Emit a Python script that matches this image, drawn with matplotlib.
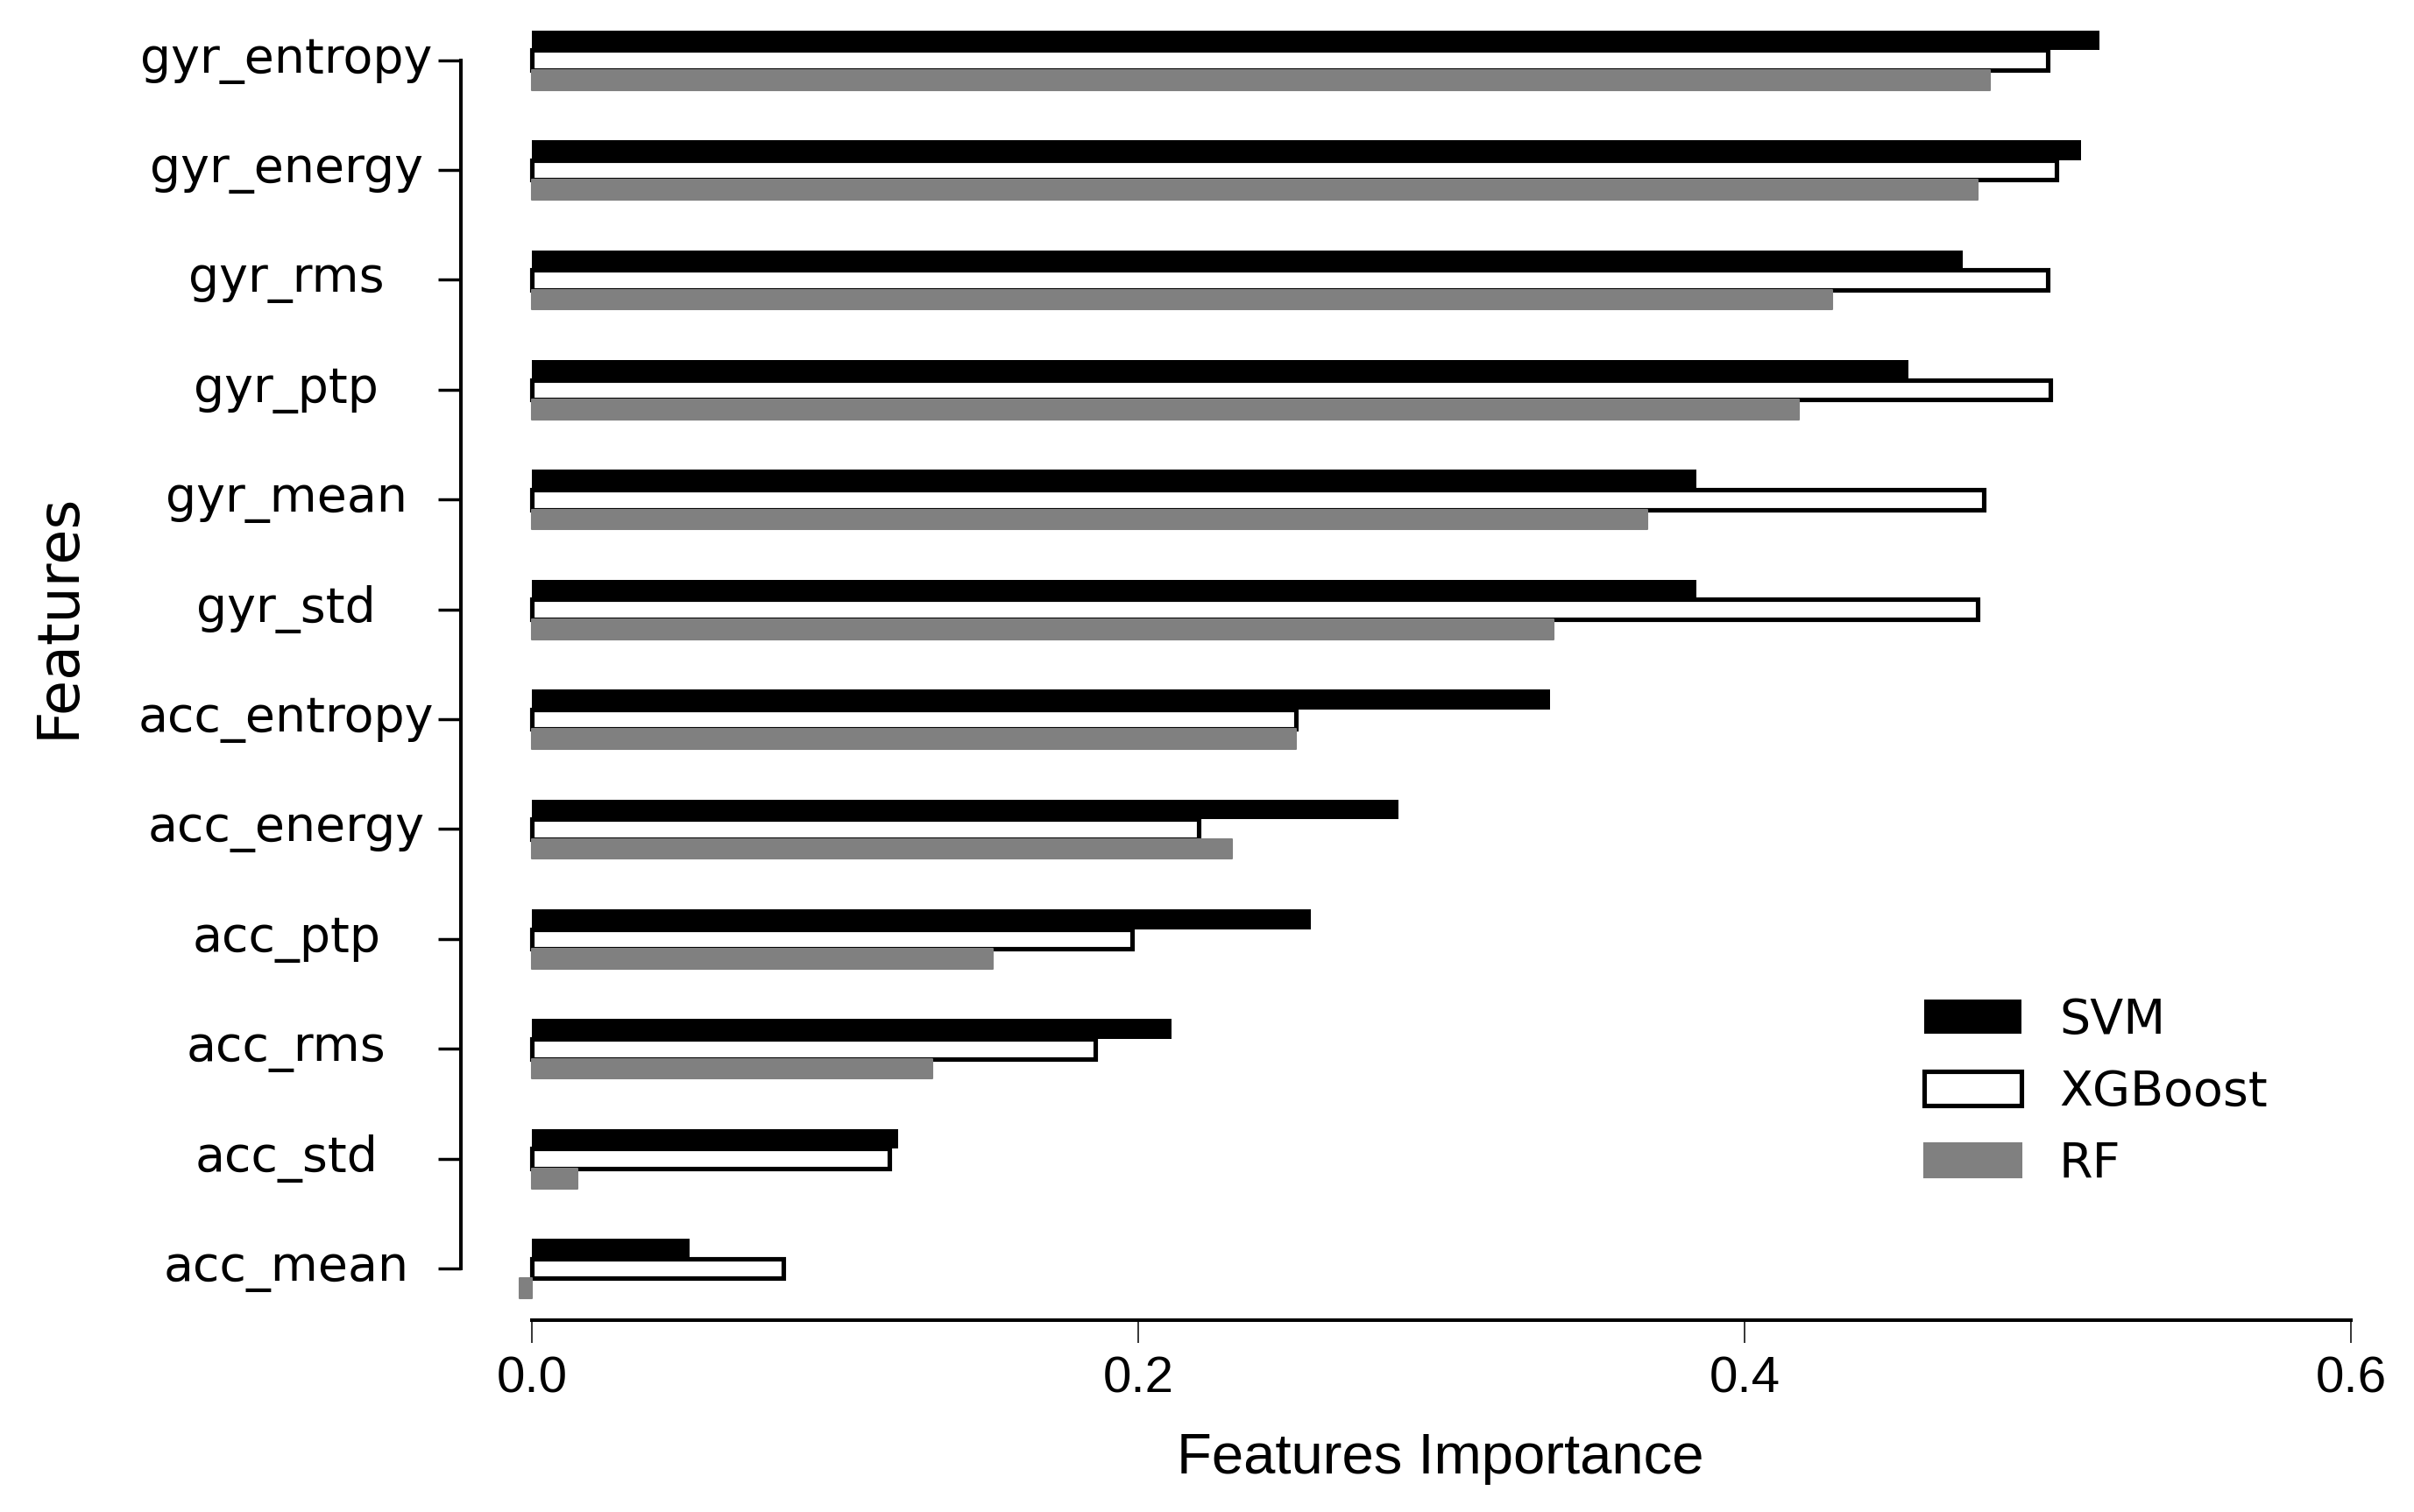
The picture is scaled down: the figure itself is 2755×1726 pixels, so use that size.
import numpy as np
import matplotlib.pyplot as plt

features = ['acc_mean', 'acc_std', 'acc_rms', 'acc_ptp', 'acc_energy', 'acc_entropy',
            'gyr_std', 'gyr_mean', 'gyr_ptp', 'gyr_rms', 'gyr_energy', 'gyr_entropy']
svm = [0.052, 0.121, 0.211, 0.257, 0.286, 0.336, 0.384, 0.384, 0.454, 0.472, 0.511, 0.517]
xgb = [0.083, 0.118, 0.186, 0.198, 0.220, 0.252, 0.477, 0.479, 0.501, 0.500, 0.503, 0.500]
rf = [-0.004, 0.015, 0.132, 0.152, 0.231, 0.252, 0.337, 0.368, 0.418, 0.429, 0.477, 0.481]
models = ['SVM', 'XGBoost', 'RF']
xticks = [0.0, 0.2, 0.4, 0.6]

W, H = 2755, 1726
fig = plt.figure(figsize=(W / 100, H / 100), dpi=100)
ax = fig.add_axes([586 / W, (H - 1507) / H, 2097 / W, 1501 / H])

y = np.arange(len(features))
h = 0.18
ax.barh(y + h, svm, height=h, color='black', linewidth=0, label=models[0])
ax.barh(y, xgb, height=h, color='white', edgecolor='black', linewidth=3.7, label=models[1])
ax.barh(y - h, rf, height=h, color='#808080', edgecolor='#808080', linewidth=1.5,
        joinstyle='round', label=models[2])

ax.set_xlim(-0.006, 0.6)
ax.set_ylim(-0.47, 11.5)

# seaborn-like despine with offset and trim
for s in ['top', 'right']:
    ax.spines[s].set_visible(False)
for s in ['left', 'bottom']:
    ax.spines[s].set_linewidth(2.9)
ax.spines['left'].set_position(('outward', 43))
ax.spines['left'].set_bounds(0, len(features) - 1)
ax.spines['bottom'].set_bounds(0, 0.6)

ax.set_yticks(y)
ax.set_yticklabels(features, fontsize=40, ha='center', va='center')
ax.tick_params(axis='y', length=18.7, width=2.5, pad=125)
ax.set_xticks(xticks)
ax.set_xticklabels([f'{v:.1f}' for v in xticks], fontsize=42, family='Liberation Sans')
ax.tick_params(axis='x', length=18.7, width=1.1, pad=10.5)

ax.set_xlabel('Features Importance', fontsize=47, family='Liberation Sans', va='baseline')
ax.xaxis.set_label_coords(1644 / W, 1 - 1682 / H, transform=fig.transFigure)
ax.set_ylabel('Features', fontsize=47, va='baseline')
ax.yaxis.set_label_coords(85 / W, 1 - 703 / H, transform=fig.transFigure)

ax.legend(fontsize=40, frameon=False, handlelength=2.0, handleheight=0.7,
          handletextpad=0.77, labelspacing=0.5, borderpad=0, borderaxespad=0,
          loc='center left', bbox_to_anchor=(2196 / W, 1 - 1247 / H),
          bbox_transform=fig.transFigure)

fig.savefig('out.png', dpi=100)
